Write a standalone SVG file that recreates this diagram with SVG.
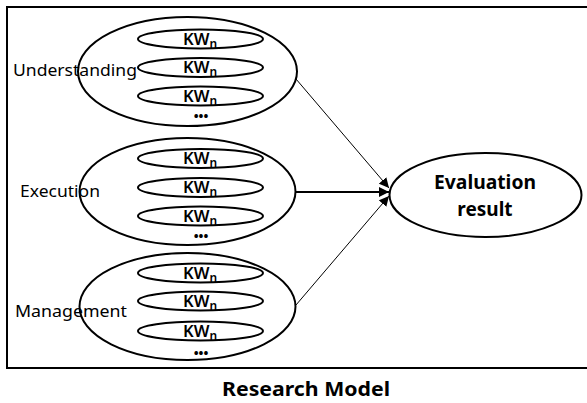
<svg xmlns="http://www.w3.org/2000/svg" width="587" height="403" viewBox="0 0 587 403">
<defs>
<style>
.big{fill:#fff;stroke:#000;stroke-width:2}
.kw{fill:none;stroke:#000;stroke-width:2}
.kt{font-family:"Noto Sans","Open Sans",sans-serif;font-size:16.5px;font-weight:600;fill:#000;text-anchor:middle}
.kt tspan{font-size:12px}
.lbl{font-family:"Noto Sans","Open Sans",sans-serif;font-size:17px;fill:#000}
.dots{font-family:"Noto Sans",sans-serif;font-size:13px;font-weight:700;fill:#000;text-anchor:middle}
.ev{font-family:"Noto Sans","Open Sans",sans-serif;font-size:19px;font-weight:700;fill:#000;text-anchor:middle}
.conn{stroke:#000;fill:none}
</style>
<marker id="ah" viewBox="0 0 10 10" refX="10" refY="5" markerWidth="10" markerHeight="10" markerUnits="userSpaceOnUse" orient="auto">
<path d="M0,0 L10,5 L0,10 z" fill="#000"/>
</marker>
</defs>
<rect x="7" y="7" width="586" height="361" fill="#fff" stroke="#000" stroke-width="2"/>
<g id="connectors">
<line class="conn" stroke-width="1" x1="296" y1="79" x2="389" y2="188" marker-end="url(#ah)"/>
<line class="conn" stroke-width="2" x1="296" y1="192" x2="389" y2="192" marker-end="url(#ah)"/>
<line class="conn" stroke-width="1" x1="296" y1="305" x2="389" y2="196" marker-end="url(#ah)"/>
</g>
<g id="understanding">
<ellipse class="big" cx="187.5" cy="71.5" rx="109.5" ry="54.5"/>
<ellipse class="kw" cx="200.5" cy="39" rx="62.5" ry="9.5"/>
<ellipse class="kw" cx="200.5" cy="67.5" rx="62.5" ry="9.5"/>
<ellipse class="kw" cx="200.5" cy="96" rx="62.5" ry="9.5"/>
<text class="kt" x="200" y="45">KW<tspan dy="3">n</tspan></text>
<text class="kt" x="200" y="73">KW<tspan dy="3">n</tspan></text>
<text class="kt" x="200" y="102">KW<tspan dy="3">n</tspan></text>
<text class="dots" x="201" y="121">•••</text>
<text class="lbl" x="13" y="76" textLength="124" lengthAdjust="spacingAndGlyphs">Understanding</text>
</g>
<g id="execution">
<ellipse class="big" cx="187.5" cy="191.5" rx="108" ry="53.5"/>
<ellipse class="kw" cx="200.5" cy="158.5" rx="62.5" ry="9.5"/>
<ellipse class="kw" cx="200.5" cy="187.5" rx="62.5" ry="9.5"/>
<ellipse class="kw" cx="200.5" cy="216" rx="62.5" ry="9.5"/>
<text class="kt" x="200" y="164">KW<tspan dy="3">n</tspan></text>
<text class="kt" x="200" y="193">KW<tspan dy="3">n</tspan></text>
<text class="kt" x="200" y="222">KW<tspan dy="3">n</tspan></text>
<text class="dots" x="201" y="241">•••</text>
<text class="lbl" x="20" y="197" textLength="80" lengthAdjust="spacingAndGlyphs">Execution</text>
</g>
<g id="management">
<ellipse class="big" cx="187.5" cy="306.5" rx="108" ry="53.5"/>
<ellipse class="kw" cx="200.5" cy="273" rx="62.5" ry="9.5"/>
<ellipse class="kw" cx="200.5" cy="301" rx="62.5" ry="9.5"/>
<ellipse class="kw" cx="200.5" cy="331" rx="62.5" ry="9.5"/>
<text class="kt" x="200" y="279">KW<tspan dy="3">n</tspan></text>
<text class="kt" x="200" y="307">KW<tspan dy="3">n</tspan></text>
<text class="kt" x="200" y="337">KW<tspan dy="3">n</tspan></text>
<text class="dots" x="201" y="358">•••</text>
<text class="lbl" x="15" y="317" textLength="112" lengthAdjust="spacingAndGlyphs">Management</text>
</g>
<g id="evaluation">
<ellipse class="big" cx="485.5" cy="195" rx="96" ry="42"/>
<text class="ev" x="485" y="189" textLength="102" lengthAdjust="spacingAndGlyphs">Evaluation</text>
<text class="ev" x="485" y="216">result</text>
</g>
<text x="306" y="396" font-family="Noto Sans, Open Sans, sans-serif" font-size="20" font-weight="700" text-anchor="middle" textLength="168" lengthAdjust="spacingAndGlyphs">Research Model</text>
</svg>
